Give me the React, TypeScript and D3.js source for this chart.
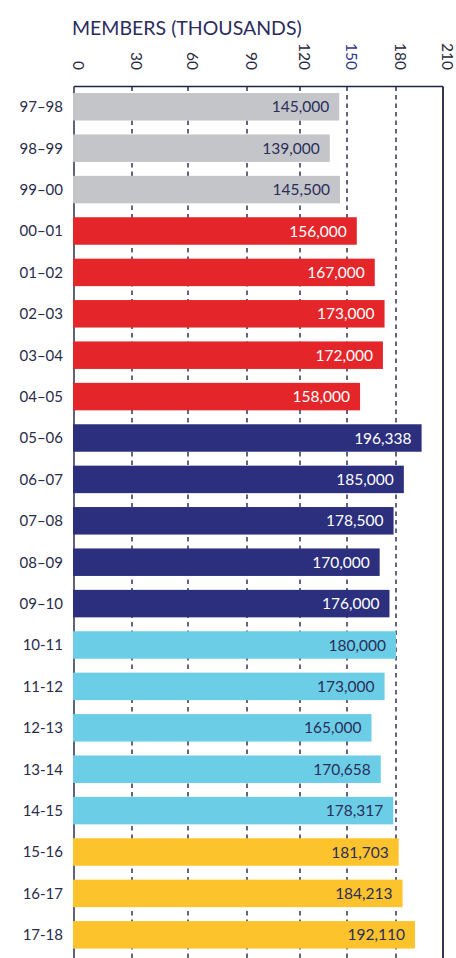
import React from "react";
import * as d3 from "d3";

const seasons = [
  "97–98", "98–99", "99–00", "00–01", "01–02", "02–03", "03–04", "04–05",
  "05–06", "06–07", "07–08", "08–09", "09–10", "10-11", "11-12", "12-13",
  "13-14", "14-15", "15-16", "16-17", "17-18",
];
const members = [
  145000, 139000, 145500, 156000, 167000, 173000, 172000, 158000,
  196338, 185000, 178500, 170000, 176000, 180000, 173000, 165000,
  170658, 178317, 181703, 184213, 192110,
];
const memberLabels = [
  "145,000", "139,000", "145,500", "156,000", "167,000", "173,000", "172,000", "158,000",
  "196,338", "185,000", "178,500", "170,000", "176,000", "180,000", "173,000", "165,000",
  "170,658", "178,317", "181,703", "184,213", "192,110",
];
const eraOfSeason = [
  "a", "a", "a", "b", "b", "b", "b", "b",
  "c", "c", "c", "c", "c", "d", "d", "d",
  "d", "d", "e", "e", "e",
];
const eras = ["a", "b", "c", "d", "e"];
const eraColors = ["#c4c5c8", "#e4262a", "#2b2f7e", "#6bcde6", "#fdc32c"];
const eraTextColors = ["#2b2d5a", "#ffffff", "#ffffff", "#2b2d5a", "#2b2d5a"];
const tickValues = [0, 30, 60, 90, 120, 150, 180, 210];
const tickPixels = [74, 132, 188, 247, 300, 347, 396, 443];

const FONT = "Lato, 'Open Sans', sans-serif";

export default function App() {
  const W = 456;
  const H = 958;
  const frameTop = 86.5;

  const x = d3.scaleLinear().domain(tickValues).range(tickPixels);
  const y = d3
    .scaleBand<string>()
    .domain(seasons)
    .range([86, 955.6])
    .paddingInner(0.336)
    .paddingOuter(0.17);
  const color = d3.scaleOrdinal<string, string>().domain(eras).range(eraColors);
  const textColor = d3.scaleOrdinal<string, string>().domain(eras).range(eraTextColors);

  const x0 = x(0);
  const xMax = x(210);

  return (
    <svg
      width={W}
      height={H}
      style={{ position: "absolute", left: 0, top: 0, display: "block", background: "#fff" }}
      fontFamily={FONT}
    >
      <text x={72} y={35} fontSize={19.5} fill="#2b2c5c">
        MEMBERS (THOUSANDS)
      </text>

      {tickValues.map((t) => (
        <text
          key={"tl" + t}
          transform={`translate(${x(t) - 1},70) rotate(90)`}
          textAnchor="end"
          fontSize={15.5}
          fill={t === 150 ? "#34378a" : "#2a2a40"}
        >
          {t}
        </text>
      ))}

      {tickValues
        .filter((t) => t > 0 && t < 210)
        .map((t) => (
          <line
            key={"g" + t}
            x1={x(t)}
            x2={x(t)}
            y1={frameTop}
            y2={H}
            stroke="#3f3f5e"
            strokeWidth={1.6}
            strokeDasharray="4.5,4"
          />
        ))}

      <line x1={x0} x2={xMax} y1={frameTop} y2={frameTop} stroke="#23234a" strokeWidth={1.6} />
      <line x1={x0} x2={x0} y1={frameTop} y2={H} stroke="#3a3a5a" strokeWidth={1.6} />
      <line x1={xMax} x2={xMax} y1={frameTop} y2={H} stroke="#1e1e40" strokeWidth={1.8} />

      {seasons.map((s, i) => {
        const era = eraOfSeason[i];
        const by = y(s) as number;
        const bh = y.bandwidth();
        const bx1 = x(members[i] / 1000);
        return (
          <g key={s}>
            <rect x={x0 - 1} y={by} width={bx1 - x0 + 1} height={bh} fill={color(era)} />
            <text
              x={bx1 - 10}
              y={by + bh / 2}
              dy="0.36em"
              textAnchor="end"
              fontSize={15.5}
              fill={textColor(era)}
            >
              {memberLabels[i]}
            </text>
            <text
              x={63}
              y={by + bh / 2}
              dy="0.36em"
              textAnchor="end"
              fontSize={15}
              fill="#2a2b48"
            >
              {s}
            </text>
          </g>
        );
      })}
    </svg>
  );
}
